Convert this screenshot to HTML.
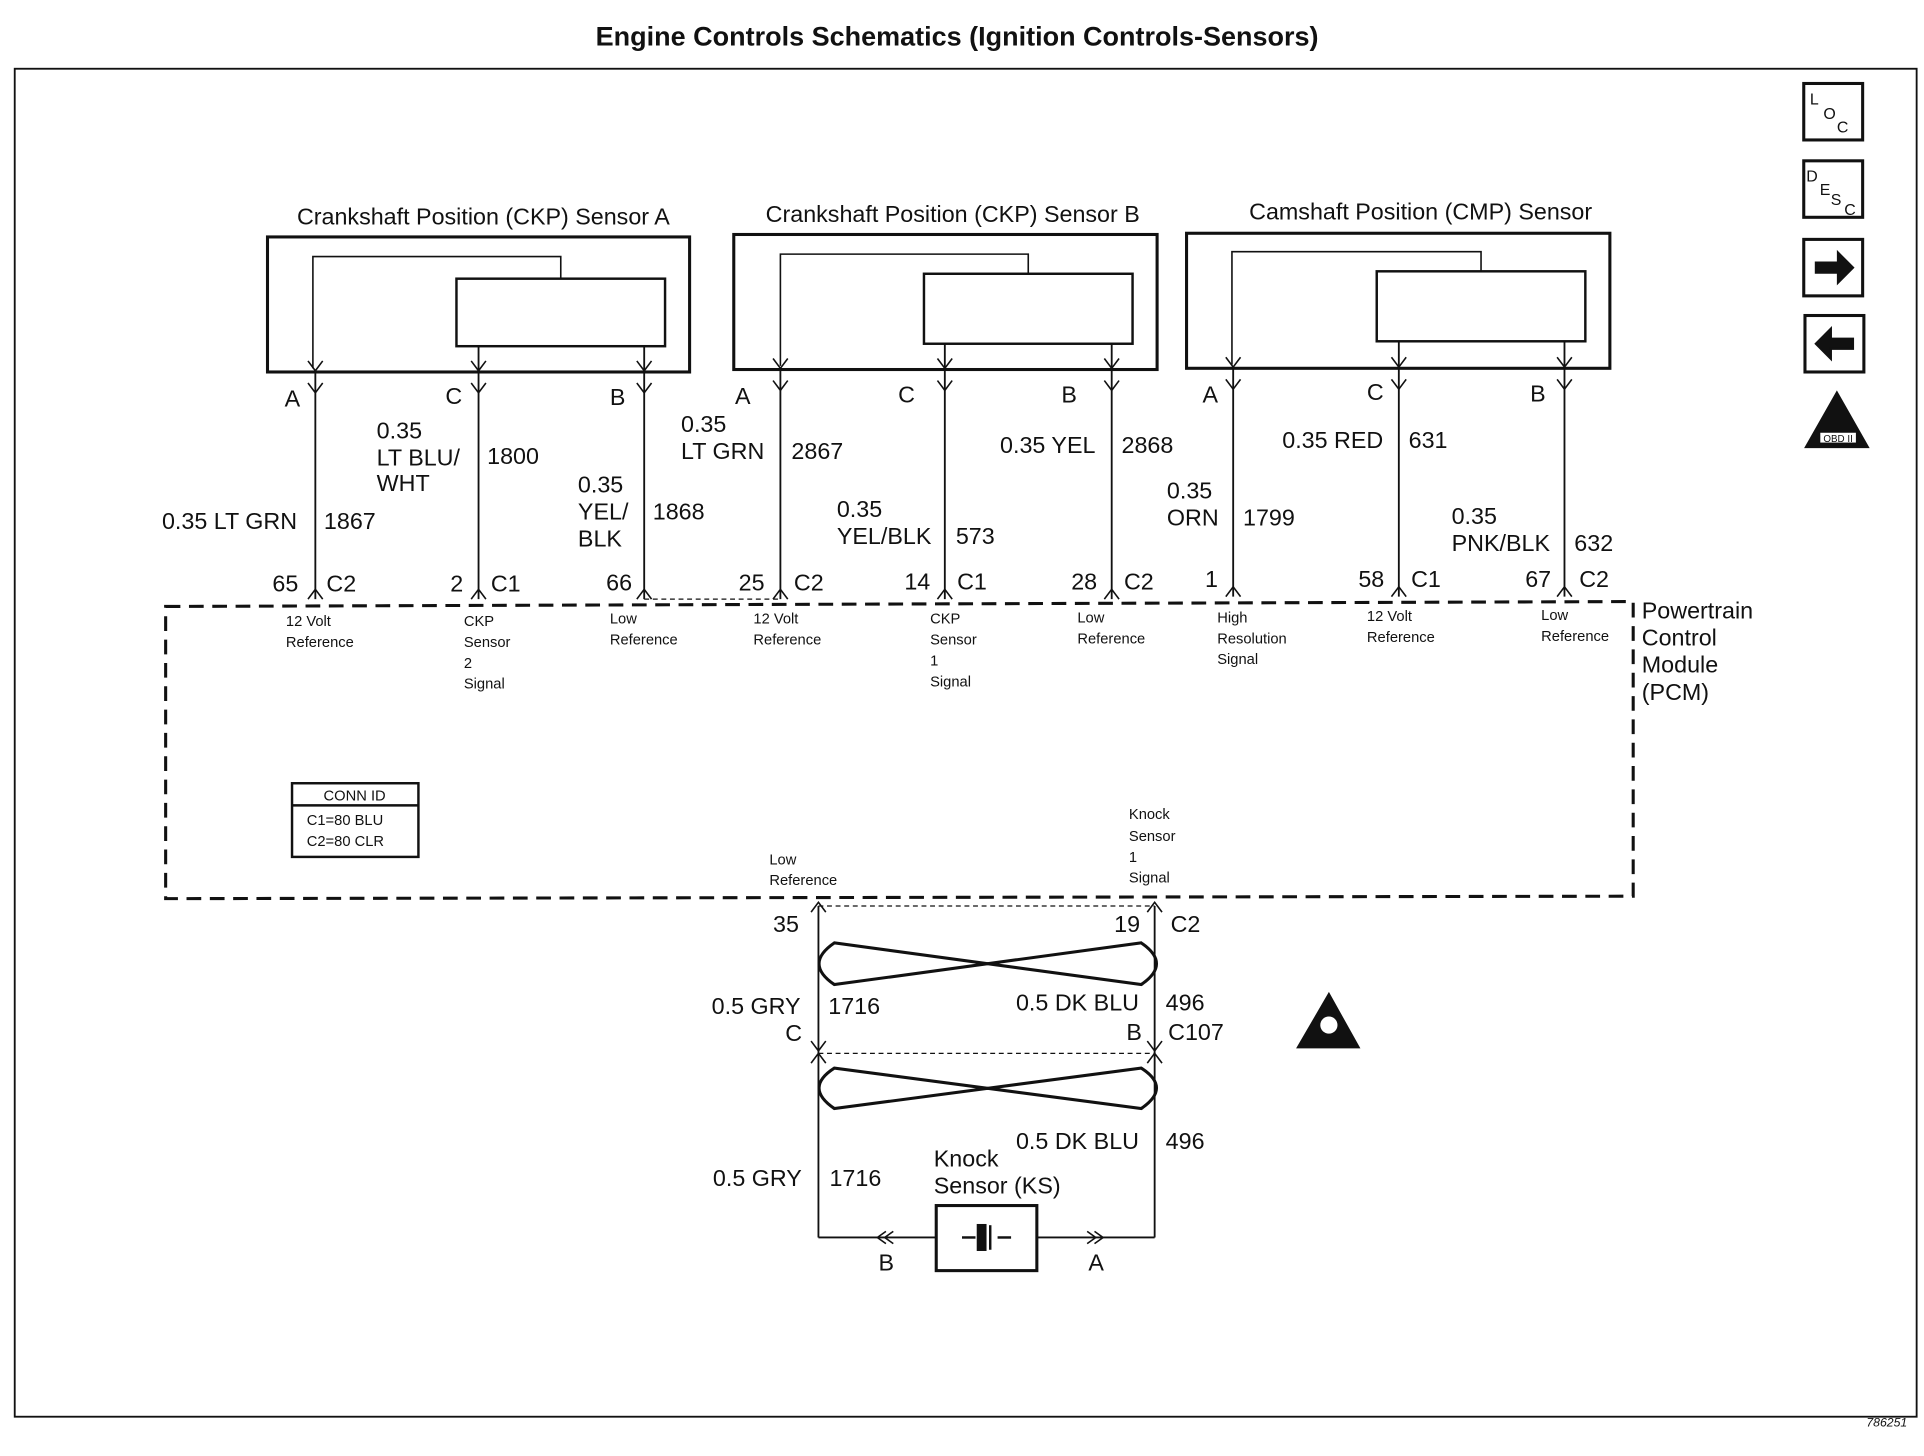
<!DOCTYPE html>
<html><head><meta charset="utf-8"><style>
html,body{margin:0;padding:0;background:#fff;}
svg{display:block}
text{font-family:"Liberation Sans",sans-serif;fill:#111}
</style></head><body>
<svg width="1924" height="1456" viewBox="0 0 1568 1186" preserveAspectRatio="none" xmlns="http://www.w3.org/2000/svg">
<g stroke="#111" fill="none" stroke-width="2">
<text x="780" y="37" font-size="22" font-weight="bold" text-anchor="middle" stroke="none">Engine Controls Schematics (Ignition Controls-Sensors)</text>
<rect x="12" y="56" width="1550" height="1098" stroke-width="1.5"/>
<!-- sensor boxes -->
<rect x="218" y="193" width="344" height="110" stroke-width="2.5"/>
<rect x="372" y="227" width="170" height="55"/>
<polyline points="255,300 255,209 457,209 457,227" stroke-width="1.3"/>
<rect x="598" y="191" width="345" height="110" stroke-width="2.5"/>
<rect x="753" y="223" width="170" height="57"/>
<polyline points="636,298 636,207 838,207 838,223" stroke-width="1.3"/>
<rect x="967" y="190" width="345" height="110" stroke-width="2.5"/>
<rect x="1122" y="221" width="170" height="57"/>
<polyline points="1004,297 1004,205 1207,205 1207,221" stroke-width="1.3"/>
<!-- wires -->
<g stroke-width="1.5">
<line x1="257" y1="303" x2="257" y2="488"/><line x1="390" y1="282" x2="390" y2="488"/><line x1="525" y1="282" x2="525" y2="488"/>
<line x1="636" y1="300" x2="636" y2="488"/><line x1="770" y1="280" x2="770" y2="488"/><line x1="906" y1="280" x2="906" y2="488"/>
<line x1="1005" y1="300" x2="1005" y2="486"/><line x1="1140" y1="278" x2="1140" y2="486"/><line x1="1275" y1="278" x2="1275" y2="486"/>
</g>
<!-- arrows into sensors and connector forks -->
<g stroke-width="1.3">
<path d="M251,294 L257,302 L263,294"/><path d="M384,294 L390,302 L396,294"/><path d="M519,294 L525,302 L531,294"/>
<path d="M630,292 L636,300 L642,292"/><path d="M764,292 L770,300 L776,292"/><path d="M900,292 L906,300 L912,292"/>
<path d="M999,291 L1005,299 L1011,291"/><path d="M1134,291 L1140,299 L1146,291"/><path d="M1269,291 L1275,299 L1281,291"/>
<path d="M251,312 L257,320 L263,312"/><path d="M384,312 L390,320 L396,312"/><path d="M519,312 L525,320 L531,312"/>
<path d="M630,310 L636,318 L642,310"/><path d="M764,310 L770,318 L776,310"/><path d="M900,310 L906,318 L912,310"/>
<path d="M999,309 L1005,317 L1011,309"/><path d="M1134,309 L1140,317 L1146,309"/><path d="M1269,309 L1275,317 L1281,309"/>
<path d="M251,488 L257,480 L263,488"/><path d="M384,488 L390,480 L396,488"/><path d="M519,488 L525,480 L531,488"/>
<path d="M630,488 L636,480 L642,488"/><path d="M764,488 L770,480 L776,488"/><path d="M900,488 L906,480 L912,488"/>
<path d="M999,486 L1005,478 L1011,486"/><path d="M1134,486 L1140,478 L1146,486"/><path d="M1269,486 L1275,478 L1281,486"/>
</g>
<line x1="525" y1="488" x2="636" y2="488" stroke-dasharray="4,3" stroke-width="1"/>
<!-- PCM dashed -->
<path d="M135,494 L1331,490 L1331,730 L135,732 Z" stroke-dasharray="12,7" stroke-width="2.5"/>
<rect x="238" y="638" width="103" height="60" stroke-width="2"/>
<line x1="238" y1="656" x2="341" y2="656"/>
<!-- bottom wires -->
<line x1="667" y1="738" x2="667" y2="1008" stroke-width="1.5"/>
<line x1="941" y1="738" x2="941" y2="1008" stroke-width="1.5"/>
<line x1="667" y1="738" x2="941" y2="738" stroke-dasharray="4,3" stroke-width="1"/>
<line x1="667" y1="858" x2="941" y2="858" stroke-dasharray="4,3" stroke-width="1"/>
<path d="M680,768 Q655,785 680,802 L930,768 Q955,785 930,802 L680,768 Z" stroke-width="2.5"/>
<path d="M680,870 Q655,886 680,903 L930,870 Q955,886 930,903 L680,870 Z" stroke-width="2.5"/>
<g stroke-width="1.3">
<path d="M661,743 L667,735 L673,743"/><path d="M935,743 L941,735 L947,743"/>
<path d="M661,848 L667,856 L673,848"/><path d="M935,848 L941,856 L947,848"/>
<path d="M661,866 L667,858 L673,866"/><path d="M935,866 L941,858 L947,866"/>
</g>
<polyline points="667,1008 763,1008" stroke-width="1.5"/>
<polyline points="845,1008 941,1008" stroke-width="1.5"/>
<path d="M722,1003 L715,1008 L722,1013 M728,1003 L721,1008 L728,1013" stroke-width="1.3"/>
<path d="M886,1003 L893,1008 L886,1013 M892,1003 L899,1008 L892,1013" stroke-width="1.3"/>
<rect x="763" y="982" width="82" height="53" stroke-width="2.5"/>
<line x1="784" y1="1008" x2="795" y2="1008"/><line x1="813" y1="1008" x2="824" y2="1008"/>
<rect x="797" y="998" width="6" height="20" fill="#111"/><line x1="807" y1="998" x2="807" y2="1018" stroke-width="2"/>
<!-- right icons -->
<rect x="1470" y="68" width="48" height="46" stroke-width="2.5"/>
<rect x="1470" y="131" width="48" height="46" stroke-width="2.5"/>
<rect x="1470" y="195" width="48" height="46" stroke-width="2.5"/>
<rect x="1471" y="257" width="48" height="46" stroke-width="2.5"/>
<path d="M1480,214 L1498,214 L1498,206 L1510,218 L1498,230 L1498,222 L1480,222 Z" fill="#111"/>
<path d="M1510,276 L1492,276 L1492,268 L1480,280 L1492,292 L1492,284 L1510,284 Z" fill="#111"/>
<path d="M1497,320 L1522,364 L1472,364 Z" fill="#111"/>
<path d="M1083,810 L1107,853 L1058,853 Z" fill="#111"/>
</g>
<rect x="1483" y="352" width="30" height="9" fill="#fff" stroke="#111"/>
<text x="1498" y="360" font-size="8" text-anchor="middle">OBD II</text>
<circle cx="1083" cy="835" r="7" fill="#fff"/>
<g font-size="13">
<text x="1475" y="85">L</text><text x="1486" y="97">O</text><text x="1497" y="108">C</text>
<text x="1472" y="148">D</text><text x="1483" y="159">E</text><text x="1492" y="167">S</text><text x="1503" y="175">C</text>
</g>
<g font-size="19">
<text x="242" y="183">Crankshaft Position (CKP) Sensor A</text>
<text x="624" y="181">Crankshaft Position (CKP) Sensor B</text>
<text x="1018" y="179">Camshaft Position (CMP) Sensor</text>
<text x="232" y="331">A</text><text x="363" y="329">C</text><text x="497" y="330">B</text>
<text x="599" y="329">A</text><text x="732" y="328">C</text><text x="865" y="328">B</text>
<text x="980" y="328">A</text><text x="1114" y="326">C</text><text x="1247" y="327">B</text>
<text x="307" y="357">0.35</text><text x="307" y="379">LT BLU/</text><text x="307" y="400">WHT</text><text x="397" y="378">1800</text>
<text x="132" y="431">0.35 LT GRN</text><text x="264" y="431">1867</text>
<text x="471" y="401">0.35</text><text x="471" y="423">YEL/</text><text x="471" y="445">BLK</text><text x="532" y="423">1868</text>
<text x="555" y="352">0.35</text><text x="555" y="374">LT GRN</text><text x="645" y="374">2867</text>
<text x="682" y="421">0.35</text><text x="682" y="443">YEL/BLK</text><text x="779" y="443">573</text>
<text x="815" y="369">0.35 YEL</text><text x="914" y="369">2868</text>
<text x="1045" y="365">0.35 RED</text><text x="1148" y="365">631</text>
<text x="951" y="406">0.35</text><text x="951" y="428">ORN</text><text x="1013" y="428">1799</text>
<text x="1183" y="427">0.35</text><text x="1183" y="449">PNK/BLK</text><text x="1283" y="449">632</text>
<text x="222" y="482">65</text><text x="266" y="482">C2</text>
<text x="367" y="482">2</text><text x="400" y="482">C1</text>
<text x="494" y="481">66</text>
<text x="602" y="481">25</text><text x="647" y="481">C2</text>
<text x="737" y="480">14</text><text x="780" y="480">C1</text>
<text x="873" y="480">28</text><text x="916" y="480">C2</text>
<text x="982" y="478">1</text>
<text x="1107" y="478">58</text><text x="1150" y="478">C1</text>
<text x="1243" y="478">67</text><text x="1287" y="478">C2</text>
<text x="1338" y="504">Powertrain</text><text x="1338" y="526">Control</text><text x="1338" y="548">Module</text><text x="1338" y="570">(PCM)</text>
<text x="630" y="759">35</text><text x="908" y="759">19</text><text x="954" y="759">C2</text>
<text x="580" y="826">0.5 GRY</text><text x="675" y="826">1716</text>
<text x="640" y="848">C</text>
<text x="828" y="823">0.5 DK BLU</text><text x="950" y="823">496</text>
<text x="918" y="847">B</text><text x="952" y="847">C107</text>
<text x="828" y="936">0.5 DK BLU</text><text x="950" y="936">496</text>
<text x="581" y="966">0.5 GRY</text><text x="676" y="966">1716</text>
<text x="761" y="950">Knock</text><text x="761" y="972">Sensor (KS)</text>
<text x="716" y="1035">B</text><text x="887" y="1035">A</text>
</g>
<g font-size="12">
<text x="233" y="510">12 Volt</text><text x="233" y="527">Reference</text>
<text x="378" y="510">CKP</text><text x="378" y="527">Sensor</text><text x="378" y="544">2</text><text x="378" y="561">Signal</text>
<text x="497" y="508">Low</text><text x="497" y="525">Reference</text>
<text x="614" y="508">12 Volt</text><text x="614" y="525">Reference</text>
<text x="758" y="508">CKP</text><text x="758" y="525">Sensor</text><text x="758" y="542">1</text><text x="758" y="559">Signal</text>
<text x="878" y="507">Low</text><text x="878" y="524">Reference</text>
<text x="992" y="507">High</text><text x="992" y="524">Resolution</text><text x="992" y="541">Signal</text>
<text x="1114" y="506">12 Volt</text><text x="1114" y="523">Reference</text>
<text x="1256" y="505">Low</text><text x="1256" y="522">Reference</text>
<text x="627" y="704">Low</text><text x="627" y="721">Reference</text>
<text x="920" y="667">Knock</text><text x="920" y="685">Sensor</text><text x="920" y="702">1</text><text x="920" y="719">Signal</text>
<text x="289" y="652" text-anchor="middle">CONN ID</text>
<text x="250" y="672">C1=80 BLU</text><text x="250" y="689">C2=80 CLR</text>
<text x="1521" y="1162" font-style="italic" font-size="10">786251</text>
</g>
</svg>
</body></html>
